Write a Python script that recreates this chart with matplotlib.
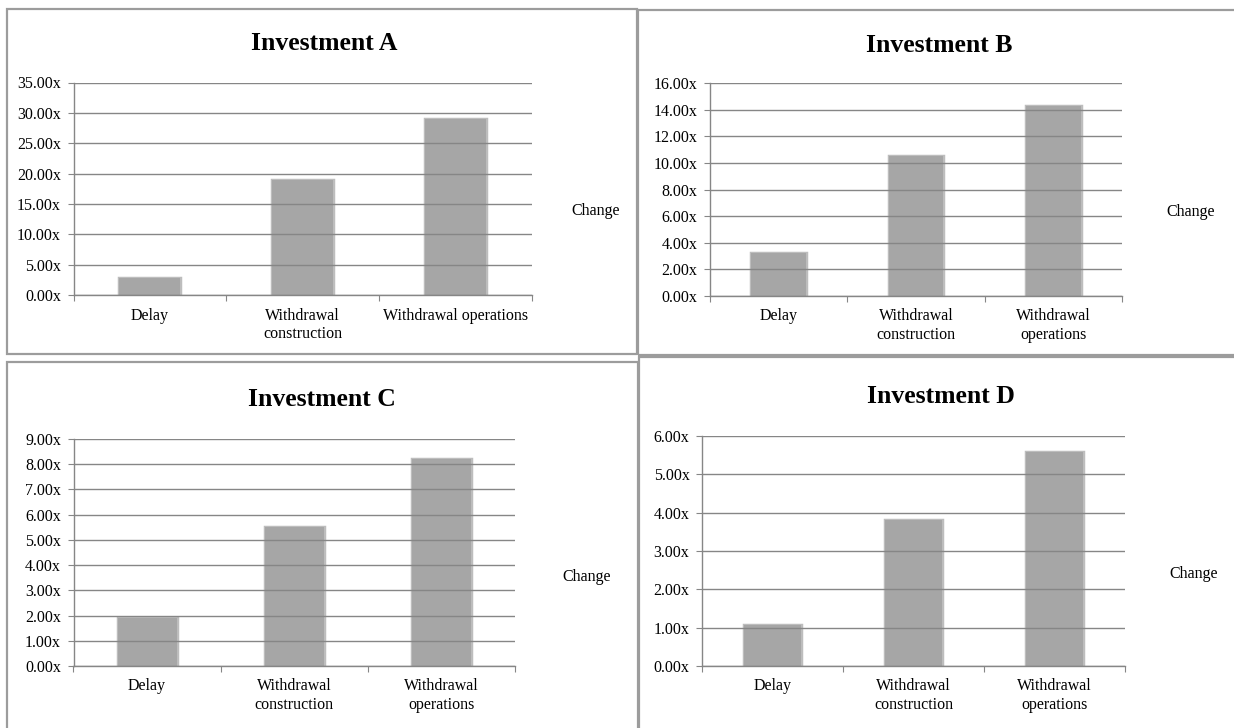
import numpy as np
import matplotlib
matplotlib.use('Agg')
from matplotlib import pyplot as plt
from matplotlib import patheffects
from matplotlib.patches import Rectangle
from matplotlib.ticker import FuncFormatter, FixedLocator

plt.rcParams['font.family'] = ['Liberation Serif', 'DejaVu Serif']

W, H = 1234, 728

# data
titles = ['Investment A', 'Investment B', 'Investment C', 'Investment D']
labels_a = ['Delay', 'Withdrawal\nconstruction', 'Withdrawal operations']
labels_bcd = ['Delay', 'Withdrawal\nconstruction', 'Withdrawal\noperations']
values_a = [2.8, 18.9, 29.0]
values_b = [3.25, 10.5, 14.3]
values_c = [1.9, 5.5, 8.2]
values_d = [1.07, 3.82, 5.57]
ymax = [35, 16, 9, 6]
ystep = [5, 2, 1, 1]
legend_label = 'Change'

# layout in pixels: plot box (x0, x1, ytop, ybottom), title pos, legend pos, frame (x0, y0, x1, y1)
plot_boxes = [(73.5, 532, 82.5, 295), (710, 1122, 83, 296),
              (73.5, 515, 439, 666), (702, 1125, 436, 666)]
title_pos = [(324, 43), (939, 45), (322, 399), (941, 397)]
legend_pos = [(596, 211), (1191, 212), (587, 577), (1194, 574)]
frames = [(7, 9, 637, 354), (638, 10, 1240, 355), (7, 362, 638, 740), (639, 357, 1240, 740)]

fig = plt.figure(figsize=(W / 100, H / 100), dpi=100)
fig.patch.set_facecolor('white')

grid_col = '#868686'
bar_col = '#a6a6a6'
frame_col = '#9c9c9c'
fs = 11.5

series = [values_a, values_b, values_c, values_d]
cats = [labels_a, labels_bcd, labels_bcd, labels_bcd]

for i in range(4):
    x0, x1, yt, yb = plot_boxes[i]
    ax = fig.add_axes([x0 / W, 1 - yb / H, (x1 - x0) / W, (yb - yt) / H])
    xs = np.arange(len(series[i]))
    bars = ax.bar(xs, series[i], width=0.4, color=bar_col, zorder=1)
    for b in bars:
        # soft edge like the blurred excel bars
        b.set_path_effects([patheffects.Stroke(linewidth=2.5, foreground='#bdbdbd'),
                            patheffects.Normal()])
    ax.set_xlim(-0.5, len(xs) - 0.5)
    ax.set_ylim(0, ymax[i])
    ax.set_yticks(np.arange(0, ymax[i] + 0.001, ystep[i]))
    ax.yaxis.set_major_formatter(FuncFormatter(lambda v, p: '{:.2f}x'.format(v)))
    ax.set_xticks(xs)
    ax.set_xticklabels(cats[i])
    ax.xaxis.set_minor_locator(FixedLocator(np.arange(-0.5, len(xs), 1.0)))
    ax.tick_params(axis='x', which='major', length=0, pad=9, labelsize=fs)
    ax.tick_params(axis='x', which='minor', length=4, width=0.8, color=grid_col, direction='out')
    ax.tick_params(axis='y', length=4, width=0.8, color=grid_col, pad=5, labelsize=fs)
    ax.grid(axis='y', color=grid_col, linewidth=1.0)
    ax.set_axisbelow(False)
    for s in ['top', 'right']:
        ax.spines[s].set_visible(False)
    for s in ['left', 'bottom']:
        ax.spines[s].set_color(grid_col)
        ax.spines[s].set_linewidth(1.0)

    tx, ty = title_pos[i]
    fig.text(tx / W, 1 - ty / H, titles[i], ha='center', va='center',
             fontsize=18.5, fontweight='bold')
    lx, ly = legend_pos[i]
    fig.text(lx / W, 1 - ly / H, legend_label, ha='center', va='center', fontsize=fs)

    fx0, fy0, fx1, fy1 = frames[i]
    fig.patches.append(Rectangle((fx0 / W, 1 - fy1 / H), (fx1 - fx0) / W, (fy1 - fy0) / H,
                                 transform=fig.transFigure, fill=False,
                                 edgecolor=frame_col, linewidth=1.6))

fig.savefig('out.png', dpi=100)
